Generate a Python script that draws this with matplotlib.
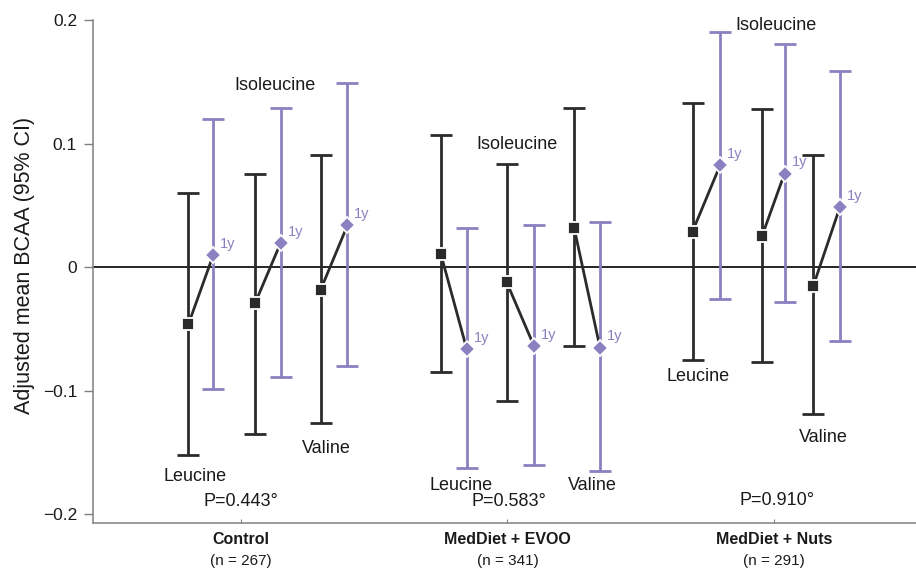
import matplotlib
matplotlib.use("Agg")
import matplotlib.pyplot as plt
from matplotlib.transforms import blended_transform_factory

plt.rcParams['font.family'] = ['Liberation Sans', 'DejaVu Sans']

# ---------------- data ----------------
groups = ["Control", "MedDiet + EVOO", "MedDiet + Nuts"]
n_labels = ["(n = 267)", "(n = 341)", "(n = 291)"]
p_labels = ["P=0.443°", "P=0.583°", "P=0.910°"]
amino_acids = ["Leucine", "Isoleucine", "Valine"]

# baseline (squares): per group, per amino acid
base_mean = [[-0.046, -0.029, -0.018],
             [0.011, -0.012, 0.032],
             [0.029, 0.025, -0.015]]
base_low = [[-0.152, -0.135, -0.126],
            [-0.085, -0.108, -0.064],
            [-0.075, -0.077, -0.119]]
base_high = [[0.060, 0.076, 0.091],
             [0.107, 0.084, 0.129],
             [0.133, 0.128, 0.091]]

# 1 year (diamonds)
y1_mean = [[0.010, 0.020, 0.034],
           [-0.066, -0.064, -0.065],
           [0.083, 0.076, 0.049]]
y1_low = [[-0.099, -0.089, -0.080],
          [-0.163, -0.160, -0.165],
          [-0.026, -0.028, -0.060]]
y1_high = [[0.120, 0.129, 0.149],
           [0.032, 0.034, 0.037],
           [0.191, 0.181, 0.159]]

# ---------------- layout ----------------
# horizontal offsets from the group centre (baseline, 1y) per amino acid
offsets = [[(-0.196, -0.103), (0.054, 0.150), (0.300, 0.400)],
           [(-0.250, -0.153), (-0.003, 0.100), (0.250, 0.347)],
           [(-0.306, -0.202), (-0.046, 0.039), (0.147, 0.247)]]
# amino-acid label positions (data coords)
label_pos = [[(-0.173, -0.1697), (0.129, 0.1477), (0.322, -0.1472)],
             [(0.826, -0.1772), (1.035, 0.0997), (1.319, -0.1772)],
             [(1.715, -0.0887), (2.007, 0.1958), (2.184, -0.1383)]]
p_pos = [(0.0, -0.190), (1.005, -0.190), (2.011, -0.1886)]

dark = "#2b2b2b"
purple = "#8b81c1"

fig = plt.figure(figsize=(9.16, 5.69), dpi=100)
ax = fig.add_axes([93 / 916, 46 / 569, 823 / 916, 523 / 569])

ax.axhline(0, color="black", lw=1.2, zorder=1)

for g in range(len(groups)):
    for a in range(len(amino_acids)):
        xb = g + offsets[g][a][0]
        x1 = g + offsets[g][a][1]
        bm, bl, bh = base_mean[g][a], base_low[g][a], base_high[g][a]
        m1, l1, h1 = y1_mean[g][a], y1_low[g][a], y1_high[g][a]
        ax.errorbar([xb], [bm], yerr=[[bm - bl], [bh - bm]], fmt="none",
                    ecolor=dark, elinewidth=2.0, capsize=8, capthick=2.0, zorder=2)
        ax.errorbar([x1], [m1], yerr=[[m1 - l1], [h1 - m1]], fmt="none",
                    ecolor=purple, elinewidth=2.0, capsize=8, capthick=2.0, zorder=2)
        ax.plot([xb, x1], [bm, m1], color=dark, lw=2.0, zorder=3)
        ax.plot([xb], [bm], marker="s", ms=9, color=dark, mec="white",
                mew=1.3, zorder=4)
        ax.plot([x1], [m1], marker="D", ms=8, color=purple, mec="white",
                mew=1.3, zorder=4)
        ax.annotate("1y", (x1, m1), xytext=(5, 8), textcoords="offset points",
                    ha="left", va="center", fontsize=10.5, color=purple, zorder=5)
        lx, ly = label_pos[g][a]
        ax.text(lx, ly, amino_acids[a], ha="center", va="center", fontsize=13,
                color="#1a1a1a")
    px, py = p_pos[g]
    ax.text(px, py, p_labels[g], ha="center", va="center", fontsize=13,
            color="#1a1a1a")

ax.set_xlim(-0.554, 2.532)
ax.set_ylim(-0.2072, 0.2166)

yt = [0.2, 0.1, 0.0, -0.1, -0.2]
ax.set_yticks(yt)
ax.set_yticklabels(["0.2", "0.1", "0", "\u22120.1", "\u22120.2"])
ax.tick_params(axis="y", direction="out", length=6.5, width=1.0, color="#808080",
               labelsize=12.5, pad=5, labelcolor="#1a1a1a")

ax.set_xticks(range(len(groups)))
ax.set_xticklabels([])
ax.tick_params(axis="x", direction="in", length=3, width=0.8, color="#808080")

for s in ["top", "right"]:
    ax.spines[s].set_visible(False)
ax.spines["left"].set_color("#808080")
ax.spines["bottom"].set_color("#808080")
ax.spines["left"].set_linewidth(1.1)
ax.spines["bottom"].set_linewidth(1.1)
ax.spines["left"].set_bounds(-0.2072, 0.2)

trans = blended_transform_factory(ax.transData, fig.transFigure)
for g, name in enumerate(groups):
    ax.text(g, 1 - 540 / 569, name, transform=trans, ha="center", va="center",
            fontsize=11.5, fontweight="bold", color="#1a1a1a")
    ax.text(g, 1 - 561 / 569, n_labels[g], transform=trans, ha="center",
            va="center", fontsize=11, color="#1a1a1a")

fig.text(25 / 916, 1 - 265 / 569, "Adjusted mean BCAA (95% CI)", rotation=90,
         ha="center", va="center", fontsize=15.5, color="#1a1a1a")

fig.savefig("out.png", dpi=100)
